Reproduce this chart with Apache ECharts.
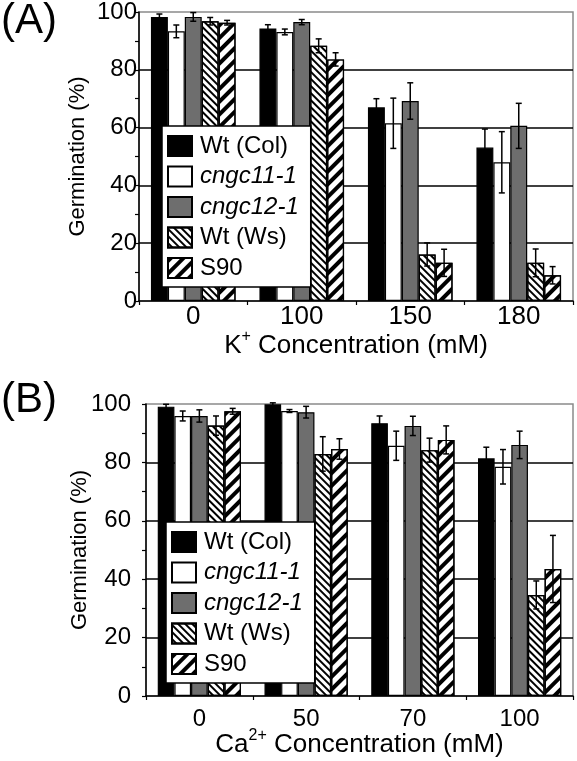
<!DOCTYPE html>
<html>
<head>
<meta charset="utf-8">
<script src="https://cdn.jsdelivr.net/npm/echarts@6/dist/echarts.min.js"></script>
<style>html,body{margin:0;padding:0;background:#fff}#c{width:577px;height:761px}</style>
</head>
<body>
<div id="c"></div>
<script>
// ---------- DATA ----------
const seriesNames = ['Wt (Col)', 'cngc11-1', 'cngc12-1', 'Wt (Ws)', 'S90'];
const yTicks = [0, 20, 40, 60, 80, 100];

// Panel A: K+ concentration
const categoriesA = ['0', '100', '150', '180'];
const wtColA   = [98.3, 94.3, 67.0, 53.1];
const cngc11A  = [93.3, 93.1, 61.5, 48.0];
const cngc12A  = [98.3, 96.5, 69.2, 60.6];
const wtWsA    = [96.8, 88.3, 16.1, 13.2];
const s90A     = [96.3, 83.6, 13.2, 8.9];
const wtColAErr  = [1.0, 1.3, 3.0, 6.4];
const cngc11AErr = [2.2, 1.0, 8.7, 10.6];
const cngc12AErr = [1.5, 0.9, 6.3, 7.8];
const wtWsAErr   = [1.3, 2.4, 4.0, 4.8];
const s90AErr    = [0.8, 2.3, 4.7, 3.0];

// Panel B: Ca2+ concentration
const categoriesB = ['0', '50', '70', '100'];
const wtColB   = [99.1, 99.9, 93.4, 81.4];
const cngc11B  = [95.9, 97.6, 85.7, 78.5];
const cngc12B  = [95.9, 97.2, 92.5, 86.0];
const wtWsB    = [92.6, 82.9, 84.2, 34.6];
const s90B     = [97.5, 84.6, 87.7, 43.5];
const wtColBErr  = [0.8, 0.5, 2.5, 3.8];
const cngc11BErr = [1.7, 0.5, 5.0, 5.9];
const cngc12BErr = [2.1, 2.0, 3.3, 4.7];
const wtWsBErr   = [3.3, 5.9, 4.1, 4.8];
const s90BErr    = [1.0, 3.5, 4.8, 11.5];

// ---------- STYLE ----------
const FONT = 'Liberation Sans, Arial, sans-serif';
const GAP = 0.22;
const decalWs = {symbol:'rect', symbolSize:1, dashArrayX:[1,0], dashArrayY:[1.6,2.4], rotation: Math.PI/4, color:'#000'};
const decalS90 = {symbol:'rect', symbolSize:1, dashArrayX:[1,0], dashArrayY:[3.6,5], rotation: -Math.PI/4, color:'#000'};
const styles = [
  {color:'#000', borderColor:'#000', borderWidth:1.2},
  {color:'#fff', borderColor:'#000', borderWidth:1.2},
  {color:'#6e6e6e', borderColor:'#000', borderWidth:1.2},
  {color:'#fff', borderColor:'#000', borderWidth:1.2, decal: decalWs},
  {color:'#fff', borderColor:'#000', borderWidth:1.2, decal: decalS90}
];

const panels = [
  {cats: categoriesA, vals:[wtColA,cngc11A,cngc12A,wtWsA,s90A], errs:[wtColAErr,cngc11AErr,cngc12AErr,wtWsAErr,s90AErr]},
  {cats: categoriesB, vals:[wtColB,cngc11B,cngc12B,wtWsB,s90B], errs:[wtColBErr,cngc11BErr,cngc12BErr,wtWsBErr,s90BErr]}
];

function renderErr(params, api) {
  const cat = api.value(0), s = api.value(1), v = api.value(2), e = api.value(3);
  const band = api.size([1, 0])[0];
  const bw = band * (1 - GAP) / 5;
  const c = api.coord([cat, v]);
  const x = c[0] + (s - 2) * bw;
  const top = api.coord([cat, v + e])[1];
  const bot = api.coord([cat, v - e])[1];
  const cap = 3;
  const st = {stroke:'#000', lineWidth:1.5};
  return {type:'group', children:[
    {type:'line', shape:{x1:x, y1:top, x2:x, y2:bot}, style:st},
    {type:'line', shape:{x1:x-cap, y1:top, x2:x+cap, y2:top}, style:st},
    {type:'line', shape:{x1:x-cap, y1:bot, x2:x+cap, y2:bot}, style:st}
  ]};
}

const grids = [
  {left:139, top:10, width:434, height:291, show:true, borderColor:'#8a8a8a', borderWidth:1.5},
  {left:146, top:404, width:427, height:292, show:true, borderColor:'#8a8a8a', borderWidth:1.5}
];
const xNames = ['{a|K}{s|+}{a| Concentration (mM)}', '{a|Ca}{s|2+}{a| Concentration (mM)}'];
const xLabelSize = [26, 24];
const xLabelMargin = [3, 11];
const xNameGap = [28, 32];
const yLabelMargin = [2, 15];
const yNameGap = [50, 55];

const xAxes = [], yAxes = [], series = [], legends = [];
panels.forEach((p, gi) => {
  xAxes.push({
    type:'category', gridIndex:gi, data:p.cats,
    axisLine:{lineStyle:{color:'#000', width:1.5}},
    axisTick:{show:true, length:4, lineStyle:{color:'#000', width:1.2}},
    axisLabel:{color:'#000', fontSize:xLabelSize[gi], fontFamily:FONT, margin:xLabelMargin[gi]},
    name:xNames[gi], nameLocation:'middle', nameGap:xNameGap[gi], nameMoveOverlap:false,
    nameTextStyle:{color:'#000', fontFamily:FONT, rich:{
      a:{fontSize:26, fontFamily:FONT, color:'#000', lineHeight:30, verticalAlign:'bottom'},
      s:{fontSize:16, fontFamily:FONT, color:'#000', lineHeight:16, verticalAlign:'top'}
    }}
  });
  const yMain = yAxes.length;
  yAxes.push({
    type:'value', gridIndex:gi, min:0, max:100, interval:10,
    axisLine:{show:true, lineStyle:{color:'#000', width:1.5}},
    axisTick:{show:true, length:4, lineStyle:{color:'#000', width:1.2}},
    axisLabel:{color:'#000', fontSize:24, fontFamily:FONT, margin:yLabelMargin[gi],
      formatter: v => (yTicks.indexOf(v) >= 0 ? String(v) : '')},
    splitLine:{show:false},
    name:'Germination (%)', nameLocation:'middle', nameGap:yNameGap[gi], nameRotate:90, nameMoveOverlap:false,
    nameTextStyle:{color:'#000', fontSize:22, fontFamily:FONT}
  });
  yAxes.push({
    type:'value', gridIndex:gi, min:0, max:100, interval:20, position:'left',
    axisLine:{show:false}, axisTick:{show:false}, axisLabel:{show:false},
    splitLine:{show:true, showMinLine:false, showMaxLine:false, lineStyle:{color:'#000', width:1.5}}
  });
  seriesNames.forEach((nm, si) => {
    series.push({
      type:'bar', name:nm, xAxisIndex:gi, yAxisIndex:yMain,
      data:p.vals[si], barGap:'0%', barCategoryGap:(GAP*100)+'%',
      itemStyle:styles[si], emphasis:{disabled:true}, z:2
    });
  });
  const errData = [];
  seriesNames.forEach((nm, si) => {
    p.vals[si].forEach((v, ci) => errData.push([ci, si, v, p.errs[si][ci]]));
  });
  series.push({
    type:'custom', xAxisIndex:gi, yAxisIndex:yMain, renderItem:renderErr,
    data:errData, z:3, silent:true,
    encode:{x:0, y:2}
  });
});

const legendPos = [{left:162, top:126}, {left:166, top:522}];
legendPos.forEach((lp) => {
  legends.push({
    left:lp.left, top:lp.top, orient:'vertical', icon:'rect',
    itemWidth:24, itemHeight:20, itemGap:6.5,
    padding:[8, 12, 7, 5],
    backgroundColor:'#fff', borderColor:'#000', borderWidth:1.5,
    selectedMode:false,
    textStyle:{color:'#000', fontSize:24, fontFamily:FONT, padding:[0,0,0,3]},
    data: seriesNames.map((n, i) => (i === 1 || i === 2) ? {name:n, textStyle:{fontStyle:'italic'}} : {name:n}),
    z:10
  });
});

const chart = echarts.init(document.getElementById('c'), null, {renderer:'canvas'});
chart.setOption({
  animation:false,
  textStyle:{fontFamily:FONT},
  grid:grids, xAxis:xAxes, yAxis:yAxes, series:series, legend:legends,
  graphic:[
    {type:'text', left:1, top:0, style:{text:'(A)', fontSize:42, fontFamily:FONT, fill:'#000'}},
    {type:'text', left:1, top:379, style:{text:'(B)', fontSize:42, fontFamily:FONT, fill:'#000'}}
  ]
});
</script>
</body>
</html>
